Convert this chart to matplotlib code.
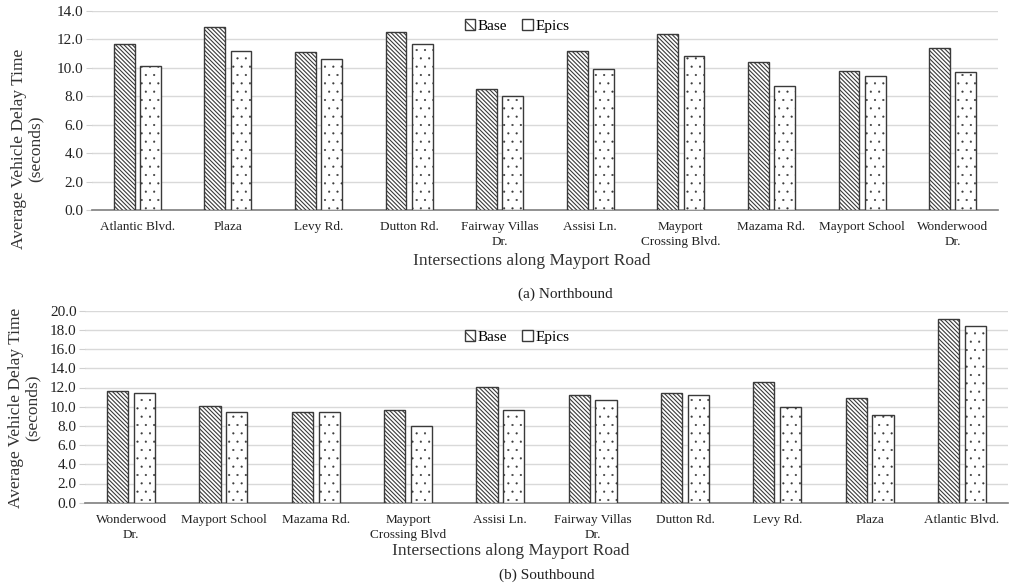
import matplotlib
matplotlib.use("Agg")
import matplotlib.pyplot as plt
import numpy as np
from matplotlib.patches import Patch

plt.rcParams['font.family'] = ['Liberation Serif', 'DejaVu Serif']
plt.rcParams['hatch.linewidth'] = 0.8

nb_labels = ["Atlantic Blvd.", "Plaza", "Levy Rd.", "Dutton Rd.", "Fairway Villas\nDr.",
             "Assisi Ln.", "Mayport\nCrossing Blvd.", "Mazama Rd.", "Mayport School", "Wonderwood\nDr."]
nb_base = [11.7, 12.9, 11.1, 12.5, 8.5, 11.2, 12.4, 10.4, 9.8, 11.4]
nb_epics = [10.1, 11.2, 10.6, 11.7, 8.0, 9.9, 10.8, 8.7, 9.4, 9.7]

sb_labels = ["Wonderwood\nDr.", "Mayport School", "Mazama Rd.", "Mayport\nCrossing Blvd", "Assisi Ln.",
             "Fairway Villas\nDr.", "Dutton Rd.", "Levy Rd.", "Plaza", "Atlantic Blvd."]
sb_base = [11.6, 10.1, 9.5, 9.7, 12.1, 11.2, 11.4, 12.6, 10.9, 19.1]
sb_epics = [11.4, 9.5, 9.4, 8.0, 9.7, 10.7, 11.2, 10.0, 9.1, 18.4]

fig = plt.figure(figsize=(10.11, 5.86), dpi=100)
W, H = 1011, 586
BASE_HATCH = '\\' * 8
EDGE = '#3a3a3a'


def make_ax(rect_px, labels, base, epics, ymax, ystep, legend_y):
    x0, y0, x1, y1 = rect_px
    ax = fig.add_axes([x0 / W, 1 - y1 / H, (x1 - x0) / W, (y1 - y0) / H])
    x = np.arange(len(labels))
    bw = 0.23
    off = 0.145
    with plt.rc_context({'hatch.color': '#2a2a2a', 'hatch.linewidth': 0.8}):
        ax.bar(x - off, base, bw, facecolor='white', edgecolor=EDGE, linewidth=1.0,
               hatch=BASE_HATCH, zorder=3)
    with plt.rc_context({'hatch.color': '#8a8a8a', 'hatch.linewidth': 0.3}):
        ax.bar(x + off, epics, bw, facecolor='white', edgecolor=EDGE, linewidth=1.0,
               hatch='..', zorder=3)
    ax.set_xlim(-0.5, len(labels) - 0.5)
    ax.set_ylim(0, ymax)
    ticks = np.arange(0, ymax + 0.01, ystep)
    ax.set_yticks(ticks)
    ax.set_yticklabels([f"{v:.1f}" for v in ticks], fontsize=11, color='#222222')
    ax.set_xticks(x)
    ax.set_xticklabels(labels, fontsize=9.5, color='#222222', linespacing=1.35)
    ax.tick_params(axis='x', length=0, pad=8)
    ax.tick_params(axis='y', length=4, color='#d0d0d0', pad=2)
    for s in ['top', 'right', 'left']:
        ax.spines[s].set_visible(False)
    ax.spines['bottom'].set_color('#7f7f7f')
    ax.spines['bottom'].set_linewidth(1.2)
    ax.grid(axis='y', color='#d9d9d9', linewidth=1.0, zorder=0)
    ax.set_axisbelow(True)
    with plt.rc_context({'hatch.color': '#2a2a2a', 'hatch.linewidth': 0.6}):
        handles = [Patch(facecolor='white', edgecolor=EDGE, hatch='\\\\\\', label='Base'),
                   Patch(facecolor='white', edgecolor=EDGE, label='Epics')]
    ax.legend(handles=handles, loc='center', bbox_to_anchor=(517 / W, 1 - legend_y / H),
              bbox_transform=fig.transFigure, ncol=2, frameon=False, fontsize=11,
              handlelength=0.7, handleheight=0.7, handletextpad=0.15, columnspacing=1.0)
    return ax


make_ax((92, 11, 998, 210), nb_labels, nb_base, nb_epics, 14.0, 2.0, 26)
make_ax((85, 310.7, 1008, 502.7), sb_labels, sb_base, sb_epics, 20.0, 2.0, 337)

ylab = "Average Vehicle Delay Time\n(seconds)"
fig.text(27 / W, 1 - 149 / H, ylab, rotation=90, ha='center', va='center', fontsize=12.5,
         color='#333333', multialignment='center', linespacing=1.05)
fig.text(24 / W, 1 - 408 / H, ylab, rotation=90, ha='center', va='center', fontsize=12.5,
         color='#333333', multialignment='center', linespacing=1.05)

fig.text(532 / W, 1 - 261 / H, "Intersections along Mayport Road", ha='center', va='center',
         fontsize=12.5, color='#333333')
fig.text(565 / W, 1 - 294 / H, "(a) Northbound", ha='center', va='center', fontsize=11, color='#222222')
fig.text(511 / W, 1 - 551 / H, "Intersections along Mayport Road", ha='center', va='center',
         fontsize=12.5, color='#333333')
fig.text(547 / W, 1 - 575 / H, "(b) Southbound", ha='center', va='center', fontsize=11, color='#222222')

fig.savefig("out.png", dpi=100)
